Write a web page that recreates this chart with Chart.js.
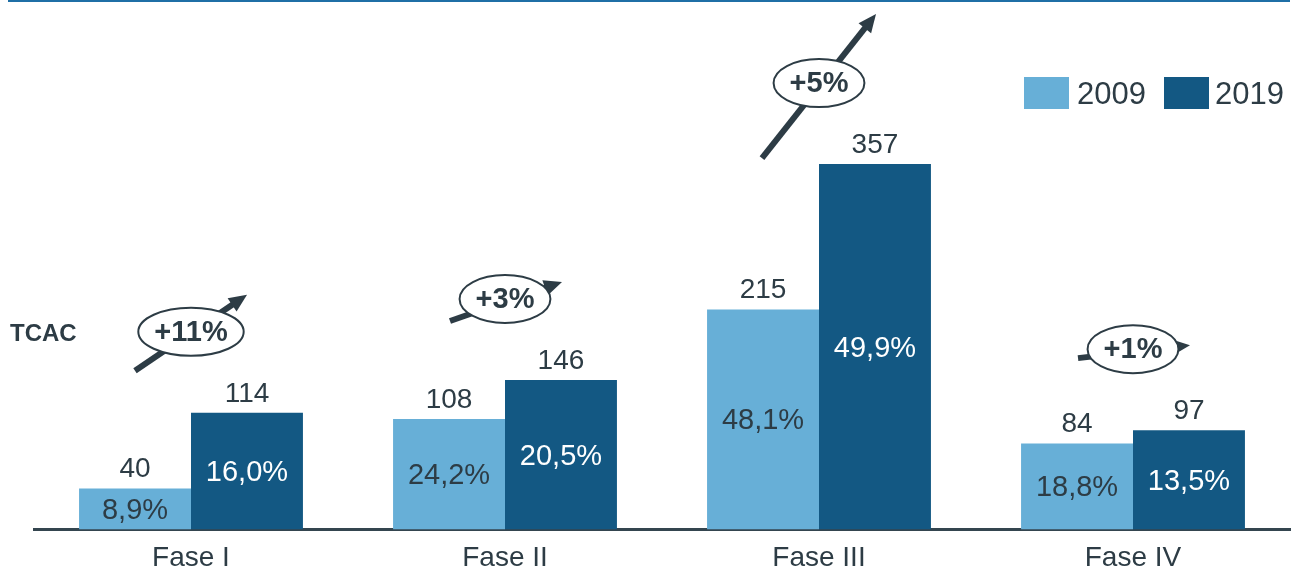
<!DOCTYPE html>
<html>
<head>
<meta charset="utf-8">
<script src="https://cdn.jsdelivr.net/npm/chart.js@4/dist/chart.umd.min.js"></script>
<style>
  html, body { margin: 0; padding: 0; background: #fff; }
  #wrap { width: 1296px; height: 574px; position: relative; }
</style>
</head>
<body>
<div id="wrap"><canvas id="bar"></canvas></div>
<script>
  const categories = ['Fase I', 'Fase II', 'Fase III', 'Fase IV'];
  const seriesNames = ['2009', '2019'];
  const values2009 = [40, 108, 215, 84];
  const values2019 = [114, 146, 357, 97];
  const share2009 = ['8,9%', '24,2%', '48,1%', '18,8%'];
  const share2019 = ['16,0%', '20,5%', '49,9%', '13,5%'];
  const tcac = ['+11%', '+3%', '+5%', '+1%'];

  const light = '#67afd7';
  const dark = '#135883';
  const ink = '#2d3c45';
  const font = "'Liberation Sans', Arial, sans-serif";

  // arrow direction for each TCAC badge (dx, dy from the badge centre)
  const arrowFrom = [[-56, 39], [-55, 22], [-57, 75], [-55, 9]];
  const arrowTo = [[56, -37], [57, -17], [57, -69], [57, -4]];

  const decorations = {
    id: 'decorations',
    afterDatasetsDraw(chart) {
      const ctx = chart.ctx;
      const shares = [share2009, share2019];
      const vals = [values2009, values2019];

      // value labels above bars, shares inside bars
      chart.data.datasets.forEach((ds, di) => {
        const meta = chart.getDatasetMeta(di);
        meta.data.forEach((bar, i) => {
          ctx.save();
          ctx.textAlign = 'center';
          ctx.fillStyle = ink;
          ctx.font = '28px ' + font;
          ctx.textBaseline = 'alphabetic';
          ctx.fillText(String(vals[di][i]), bar.x, bar.y - 11);
          ctx.font = '29px ' + font;
          ctx.textBaseline = 'middle';
          ctx.fillStyle = di === 1 ? '#ffffff' : ink;
          ctx.fillText(shares[di][i], bar.x, (bar.y + bar.base) / 2 + 2);
          ctx.restore();
        });
      });

      // TCAC badges
      const xs = chart.scales.x;
      const m2019 = chart.getDatasetMeta(1);
      tcac.forEach((t, i) => {
        const cx = xs.getPixelForValue(i);
        const cy = m2019.data[i].y - 81;
        ctx.save();
        ctx.font = 'bold 29px ' + font;
        const w = ctx.measureText(t).width;
        const rx = w / 2 + 16, ry = 24;
        const [fx, fy] = arrowFrom[i];
        const [tx, ty] = arrowTo[i];
        const ang = Math.atan2(ty - fy, tx - fx);
        const hl = 18, hw = 8;
        ctx.strokeStyle = ink;
        ctx.fillStyle = ink;
        ctx.lineWidth = 6;
        ctx.lineCap = 'butt';
        ctx.beginPath();
        ctx.moveTo(cx + fx, cy + fy);
        ctx.lineTo(cx + tx - Math.cos(ang) * (hl - 2), cy + ty - Math.sin(ang) * (hl - 2));
        ctx.stroke();
        ctx.beginPath();
        ctx.moveTo(cx + tx, cy + ty);
        ctx.lineTo(cx + tx - Math.cos(ang) * hl - Math.sin(ang) * hw, cy + ty - Math.sin(ang) * hl + Math.cos(ang) * hw);
        ctx.lineTo(cx + tx - Math.cos(ang) * hl + Math.sin(ang) * hw, cy + ty - Math.sin(ang) * hl - Math.cos(ang) * hw);
        ctx.closePath();
        ctx.fill();
        ctx.beginPath();
        ctx.ellipse(cx, cy, rx, ry, 0, 0, Math.PI * 2);
        ctx.fillStyle = '#ffffff';
        ctx.fill();
        ctx.lineWidth = 2;
        ctx.stroke();
        ctx.fillStyle = ink;
        ctx.textAlign = 'center';
        ctx.textBaseline = 'middle';
        ctx.fillText(t, cx, cy + 1);
        ctx.restore();
      });

      // TCAC label
      ctx.save();
      ctx.font = 'bold 24px ' + font;
      ctx.fillStyle = ink;
      ctx.textBaseline = 'middle';
      ctx.fillText('TCAC', 10, 334);

      // top rule
      ctx.fillStyle = '#1f6fa6';
      ctx.fillRect(8, 0, 1282, 2);

      // legend
      const legendBoxes = [[1024, 1077], [1164, 1215]];
      chart.data.datasets.forEach((ds, di) => {
        const [bx, tx] = legendBoxes[di];
        ctx.fillStyle = ds.backgroundColor;
        ctx.fillRect(bx, 77, 45, 32);
        ctx.fillStyle = ink;
        ctx.font = '31px ' + font;
        ctx.fillText(ds.label, tx, 95);
      });
      ctx.restore();
    }
  };

  new Chart(document.getElementById('bar'), {
    type: 'bar',
    data: {
      labels: categories,
      datasets: [
        { label: seriesNames[0], data: values2009, backgroundColor: light },
        { label: seriesNames[1], data: values2019, backgroundColor: dark }
      ]
    },
    options: {
      responsive: true,
      maintainAspectRatio: false,
      animation: false,
      layout: { padding: { left: 34, right: 6, top: 28, bottom: -13 } },
      datasets: { bar: { categoryPercentage: 0.713, barPercentage: 1 } },
      plugins: { legend: { display: false }, tooltip: { enabled: false } },
      scales: {
        x: {
          grid: { display: false, drawTicks: false },
          border: { display: true, color: '#34454f', width: 3 },
          ticks: { color: ink, font: { family: font, size: 28 }, padding: 12 }
        },
        y: { display: false, min: 0, max: 490 }
      }
    },
    plugins: [decorations]
  });
</script>
</body>
</html>
